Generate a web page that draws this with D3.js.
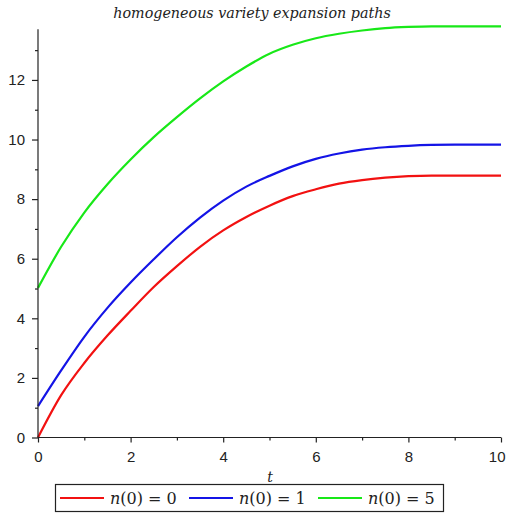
<!DOCTYPE html>
<html>
<head>
<meta charset="utf-8">
<script src="https://cdn.jsdelivr.net/npm/d3@7"></script>
<style>
  html, body { margin: 0; padding: 0; background: #fff; }
  svg { display: block; }
</style>
</head>
<body>
<svg id="chart" width="506" height="514"></svg>
<script>
// Time grid and solution values for the three initial conditions
const tValues = [0, 0.5, 1, 1.5, 2, 2.5, 3, 3.5, 4, 4.5, 5, 5.5, 6, 6.5, 7, 7.5, 8, 8.5, 9, 9.5, 10];
const pathN0 = [0, 1.42, 2.5, 3.42, 4.25, 5.05, 5.75, 6.4, 6.95, 7.4, 7.78, 8.1, 8.33, 8.52, 8.64, 8.72, 8.77, 8.79, 8.79, 8.79, 8.79];
const pathN1 = [1.05, 2.25, 3.38, 4.35, 5.2, 5.98, 6.72, 7.38, 7.95, 8.42, 8.78, 9.1, 9.35, 9.53, 9.66, 9.74, 9.79, 9.82, 9.83, 9.83, 9.83];
const pathN5 = [5.02, 6.4, 7.55, 8.5, 9.33, 10.08, 10.75, 11.38, 11.95, 12.45, 12.88, 13.18, 13.4, 13.55, 13.66, 13.74, 13.78, 13.8, 13.8, 13.8, 13.8];

const seriesLabels = ["0", "1", "5"];
const seriesColors = ["#f21111", "#1414e6", "#18e818"];
const seriesValues = [pathN0, pathN1, pathN5];

const xMajorTicks = [0, 2, 4, 6, 8, 10];
const xMinorTicks = [1, 3, 5, 7, 9];
const yMajorTicks = [0, 2, 4, 6, 8, 10, 12];
const yMinorTicks = [1, 3, 5, 7, 9, 11, 13];

const titleText = "homogeneous variety expansion paths";
const xLabel = "t";

const svg = d3.select("#chart");
const x = d3.scaleLinear().domain([0, 10]).range([38, 501]);
const y = d3.scaleLinear().domain([0, 13.8]).range([437.5, 26.3]);

const axisColor = "#222";
const tickFont = "'Liberation Sans', Arial, sans-serif";

// Curves
const line = d3.line()
  .x((d, i) => x(tValues[i]))
  .y(d => y(d))
  .curve(d3.curveMonotoneX);

seriesValues.forEach((vals, k) => {
  svg.append("path")
    .attr("d", line(vals))
    .attr("fill", "none")
    .attr("stroke", seriesColors[k])
    .attr("stroke-width", 2.2)
    .attr("stroke-linejoin", "round");
});

// Y axis with major labelled ticks and unlabelled minor ticks
const yAxis = svg.append("g").attr("transform", `translate(${x(0)},0)`)
  .call(d3.axisLeft(y).tickValues(yMajorTicks).tickSize(6).tickPadding(7).tickFormat(d3.format("d")));
const yMinor = svg.append("g").attr("transform", `translate(${x(0)},0)`)
  .call(d3.axisLeft(y).tickValues(yMinorTicks).tickSize(3).tickFormat(""));
yMinor.select(".domain").remove();
yAxis.select(".domain").attr("d", `M0,${y(0) + 0.5}V${y(13.7)}`);

// X axis
const xAxis = svg.append("g").attr("transform", `translate(0,${y(0)})`)
  .call(d3.axisBottom(x).tickValues(xMajorTicks).tickSize(5).tickPadding(9).tickFormat(d3.format("d")));
const xMinor = svg.append("g").attr("transform", `translate(0,${y(0)})`)
  .call(d3.axisBottom(x).tickValues(xMinorTicks).tickSize(3).tickFormat(""));
xMinor.select(".domain").remove();
xAxis.select(".domain").attr("d", `M${x(0)},0H${x(10)}`);
// keep the last x label inside the frame
xAxis.selectAll(".tick text").filter(d => d === 10)
  .attr("text-anchor", "end").attr("x", 4);

[yAxis, yMinor, xAxis, xMinor].forEach(g => {
  g.selectAll("path, line").attr("stroke", axisColor).attr("stroke-width", 1.2);
  g.selectAll("text").attr("font-family", tickFont).attr("font-size", 15).attr("fill", "#222");
});

// Title
svg.append("text")
  .attr("x", 252).attr("y", 18)
  .attr("text-anchor", "middle")
  .attr("font-family", "'DejaVu Serif', serif")
  .attr("font-style", "italic")
  .attr("font-size", 14.3)
  .attr("fill", "#222")
  .text(titleText);

// Axis label
svg.append("text")
  .attr("x", 270).attr("y", 482)
  .attr("text-anchor", "middle")
  .attr("font-family", "'DejaVu Serif', serif")
  .attr("font-style", "italic")
  .attr("font-size", 14)
  .attr("fill", "#222")
  .text(xLabel);

// Legend
const legend = svg.append("g");
legend.append("rect")
  .attr("x", 55.5).attr("y", 484.5)
  .attr("width", 388).attr("height", 27)
  .attr("fill", "#fff")
  .attr("stroke", "#222").attr("stroke-width", 1.2);

const itemStarts = [60, 189, 318];
seriesLabels.forEach((lab, k) => {
  const x0 = itemStarts[k];
  legend.append("line")
    .attr("x1", x0).attr("x2", x0 + 44)
    .attr("y1", 498).attr("y2", 498)
    .attr("stroke", seriesColors[k]).attr("stroke-width", 2.2);
  const t = legend.append("text")
    .attr("x", x0 + 50).attr("y", 504)
    .attr("font-family", "'DejaVu Serif', serif")
    .attr("font-size", 16)
    .attr("fill", "#222");
  t.append("tspan").attr("font-style", "italic").text("n");
  t.append("tspan").text(`(0) = ${lab}`);
});
</script>
</body>
</html>
